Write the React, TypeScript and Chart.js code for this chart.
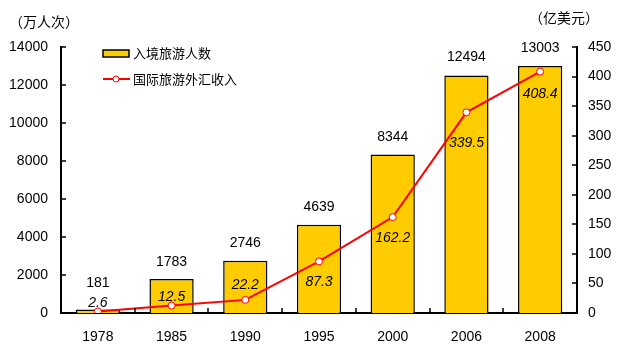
import React, { useEffect, useRef } from "react";
import { Chart, registerables } from "chart.js";

Chart.register(...registerables);

const categories = ["1978", "1985", "1990", "1995", "2000", "2006", "2008"];
const visitors = [181, 1783, 2746, 4639, 8344, 12494, 13003];
const revenue = [2.6, 12.5, 22.2, 87.3, 162.2, 339.5, 408.4];
const visitorsLabel = "入境旅游人数";
const revenueLabel = "国际旅游外汇收入";
const leftUnit = "（万人次）";
const rightUnit = "（亿美元）";

// label placement offsets (styling)
const barLabelDy = [-26, -17, -18, -18, -17, -18, -18];
const lineLabelDy = [-8, -9, -15, 21, 21, 31, 23];

const NUM_FAMILY = "'Liberation Sans', Arial, sans-serif";
const NUM_FONT = "14px " + NUM_FAMILY;
const CJK_FONT = "'Noto Sans CJK SC', sans-serif";

const decorPlugin = {
  id: "decor",
  afterDatasetsDraw(chart: any) {
    const ctx = chart.ctx as CanvasRenderingContext2D;
    const area = chart.chartArea;
    const x = chart.scales.x;
    const y = chart.scales.y;
    const y1 = chart.scales.y1;
    ctx.save();
    // inward ticks
    ctx.strokeStyle = "#000";
    ctx.lineWidth = 1.5;
    ctx.beginPath();
    y.ticks.forEach((t: any) => {
      const py = Math.round(y.getPixelForValue(t.value));
      ctx.moveTo(area.left, py);
      ctx.lineTo(area.left + 5, py);
    });
    y1.ticks.forEach((t: any) => {
      const py = Math.round(y1.getPixelForValue(t.value));
      ctx.moveTo(area.right, py);
      ctx.lineTo(area.right - 5, py);
    });
    const n = categories.length;
    const cw = (area.right - area.left) / n;
    for (let k = 1; k < n; k++) {
      const px = Math.round(area.left + cw * k);
      ctx.moveTo(px, area.bottom);
      ctx.lineTo(px, area.bottom - 5);
    }
    ctx.stroke();

    // bar labels
    ctx.fillStyle = "#000";
    ctx.textAlign = "center";
    ctx.textBaseline = "middle";
    ctx.font = NUM_FONT;
    const barMeta = chart.getDatasetMeta(0);
    barMeta.data.forEach((el: any, i: number) => {
      ctx.fillText(String(visitors[i]), el.x, el.y + barLabelDy[i]);
    });
    // line labels
    ctx.font = "italic " + NUM_FONT;
    const lineMeta = chart.getDatasetMeta(1);
    lineMeta.data.forEach((el: any, i: number) => {
      ctx.fillText(revenue[i].toFixed(1), el.x, el.y + lineLabelDy[i]);
    });

    // unit titles
    ctx.font = "14px " + CJK_FONT;
    ctx.textAlign = "left";
    ctx.fillText(leftUnit, 9, 22);
    ctx.fillText(rightUnit, 529, 18);

    // legend
    ctx.fillStyle = "#FFCC00";
    ctx.fillRect(103, 50, 26, 6);
    ctx.strokeStyle = "#000";
    ctx.lineWidth = 1.5;
    ctx.strokeRect(103, 50, 26, 7);
    ctx.fillStyle = "#000";
    ctx.font = "13px " + CJK_FONT;
    ctx.fillText(visitorsLabel, 133, 53);
    ctx.strokeStyle = "#FF0000";
    ctx.lineWidth = 2;
    ctx.beginPath();
    ctx.moveTo(103, 79);
    ctx.lineTo(130, 79);
    ctx.stroke();
    ctx.beginPath();
    ctx.lineWidth = 1;
    ctx.fillStyle = "#fff";
    ctx.arc(116, 79, 3, 0, Math.PI * 2);
    ctx.fill();
    ctx.stroke();
    ctx.fillStyle = "#000";
    ctx.fillText(revenueLabel, 133, 79);
    ctx.restore();
  },
};

const tickFont = { family: NUM_FAMILY, size: 14 };

export default function App() {
  const ref = useRef<HTMLCanvasElement>(null);
  useEffect(() => {
    if (!ref.current) return;
    const chart = new Chart(ref.current, {
      type: "bar",
      data: {
        labels: categories,
        datasets: [
          {
            type: "bar",
            label: visitorsLabel,
            data: visitors,
            backgroundColor: "#FFCC00",
            borderColor: "#000",
            borderWidth: 1.5,
            yAxisID: "y",
            order: 2,
            categoryPercentage: 1,
            barPercentage: 0.6,
          } as any,
          {
            type: "line",
            label: revenueLabel,
            data: revenue,
            borderColor: "#FF0000",
            borderWidth: 2,
            pointBackgroundColor: "#fff",
            pointBorderColor: "#FF0000",
            pointBorderWidth: 1,
            pointRadius: 3.5,
            tension: 0,
            yAxisID: "y1",
            order: 1,
          } as any,
        ],
      },
      options: {
        animation: false,
        responsive: false,
        maintainAspectRatio: false,
        layout: { padding: { top: 47, left: 0, right: 0, bottom: 0 } },
        plugins: {
          legend: { display: false },
          tooltip: { enabled: false },
        },
        scales: {
          x: {
            grid: { display: false, drawTicks: false },
            border: { display: true, color: "#000", width: 2 },
            ticks: { color: "#000", font: tickFont, padding: 16 },
            afterFit: (s: any) => {
              s.height = 51;
            },
          },
          y: {
            position: "left",
            min: 0,
            max: 14000,
            grid: { display: false, drawTicks: false },
            border: { display: true, color: "#000", width: 2 },
            ticks: {
              stepSize: 2000,
              color: "#000",
              font: tickFont,
              padding: 13,
              callback: (v: any) => String(v),
            },
            afterFit: (s: any) => {
              s.width = 61;
            },
          },
          y1: {
            position: "right",
            min: 0,
            max: 450,
            grid: { display: false, drawTicks: false },
            border: { display: true, color: "#000", width: 2 },
            ticks: {
              stepSize: 50,
              color: "#000",
              font: tickFont,
              padding: 11,
              callback: (v: any) => String(v),
            },
            afterFit: (s: any) => {
              s.width = 42;
            },
          },
        },
      },
      plugins: [decorPlugin],
    });
    return () => chart.destroy();
  }, []);
  return (
    <div style={{ position: "fixed", left: 0, top: 0, width: 619, height: 364, background: "#fff" }}>
      <canvas ref={ref} width={619} height={364} style={{ width: 619, height: 364 }} />
    </div>
  );
}
